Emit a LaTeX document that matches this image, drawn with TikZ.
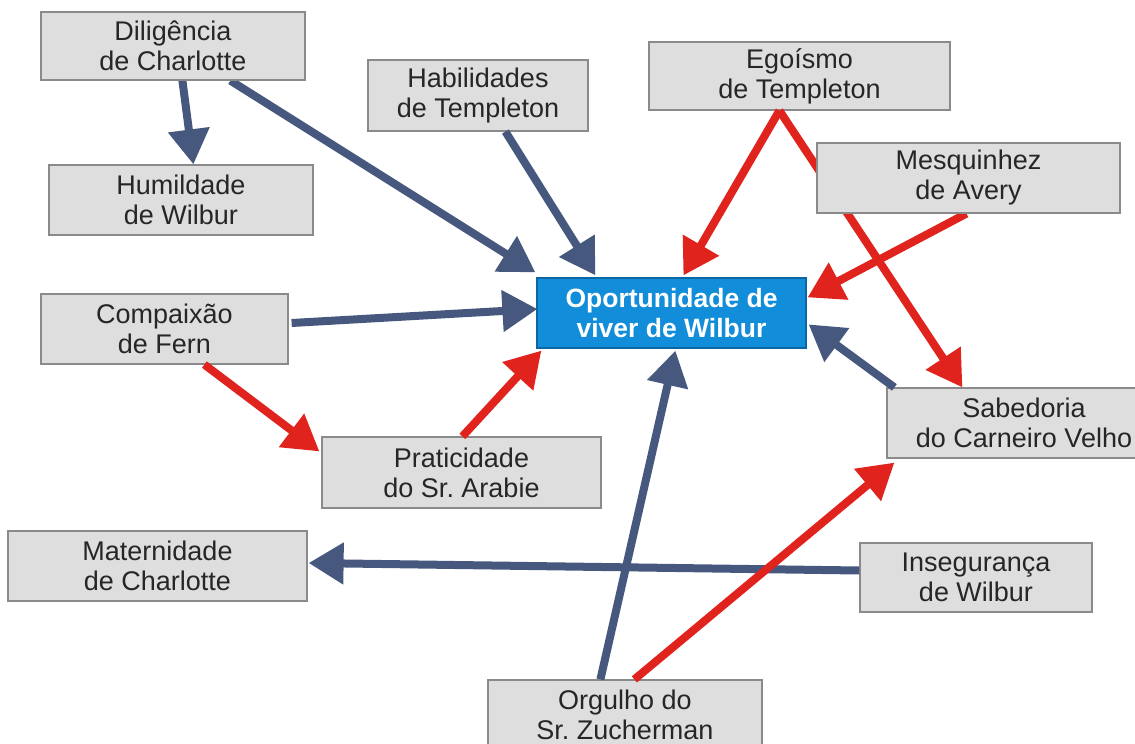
\documentclass[tikz,border=0pt]{standalone}
\usepackage{fontspec}
\setmainfont{Liberation Sans}
\usetikzlibrary{arrows.meta,calc}
\definecolor{arrblue}{HTML}{47587F}
\definecolor{arrred}{HTML}{E0231D}
\definecolor{boxfill}{HTML}{DEDEDE}
\definecolor{boxline}{HTML}{8A8A8A}
\definecolor{txtgrey}{HTML}{262626}
\definecolor{cfill}{HTML}{118DDA}
\definecolor{cline}{HTML}{0B66A6}
\frenchspacing
\begin{document}
\begin{tikzpicture}[x=1pt,y=-1pt,
  box/.style={draw=boxline, line width=1.2pt, fill=boxfill, inner sep=0pt, align=center,
    text=txtgrey, font=\fontsize{27}{30}\selectfont\frenchspacing},
  cbox/.style={draw=cline, line width=1.2pt, fill=cfill, inner sep=0pt, align=center,
    text=white, font=\fontsize{26.5}{30}\selectfont\bfseries},
  barrow/.style={draw=arrblue, line width=8pt, -{Triangle[length=35pt,width=40pt]}},
  rarrow/.style={draw=arrred, line width=8pt, -{Triangle[length=35pt,width=40pt]}}]
\useasboundingbox (0,0) rectangle (1135,744);
\fill[white] (0,0) rectangle (1135,744);

\path
  node[box, minimum width=264pt, minimum height=68pt] (dil) at (173,46) {Diligência\\de Charlotte}
  node[box, minimum width=220pt, minimum height=71pt] (hab) at (478,95.5) {Habilidades\\de Templeton}
  node[box, minimum width=301pt, minimum height=68pt] (ego) at (799.5,76) {Egoísmo\\de Templeton}
  node[box, minimum width=264pt, minimum height=70pt] (hum) at (181,200) {Humildade\\de Wilbur}
  node[box, minimum width=303pt, minimum height=70pt] (mes) at (968.5,178) {Mesquinhez\\de Avery}
  node[cbox, minimum width=269pt, minimum height=70pt] (op) at (671.5,313) {Oportunidade de\\viver de Wilbur}
  node[box, minimum width=247pt, minimum height=70pt] (com) at (164.5,329) {Compaixão\\de Fern}
  node[box, minimum width=279pt, minimum height=71pt] (pra) at (461.5,472.5) {Praticidade\\do Sr.\ Arabie}
  node[box, minimum width=274pt, minimum height=70pt] (sab) at (1024,423) {Sabedoria\\do Carneiro Velho}
  node[box, minimum width=299pt, minimum height=70pt] (mat) at (157.5,566) {Maternidade\\de Charlotte}
  node[box, minimum width=232pt, minimum height=69pt] (ins) at (976,577.5) {Insegurança\\de Wilbur}
  node[box, minimum width=274pt, minimum height=70pt] (org) at (625,715) {Orgulho do\\Sr.\ Zucherman};

% blue arrows
\draw[barrow] ($(dil.south west)+(142,0)$) -- ($(hum.north west)+(145,0)$);
\draw[barrow] ($(dil.south west)+(190,0)$) -- ($(op.north west)+(-1,-5)$);
\draw[barrow] ($(hab.south west)+(138,0)$) -- ($(op.north west)+(59,-2)$);
\draw[barrow] ($(sab.north west)+(8,0)$) -- ($(op.north east)+(2,47)$);
\draw[barrow] ($(com.east)+(3,-6)$) -- ($(op.west)+(1,-4)$);
\draw[barrow] ($(ins.west)+(0,-7)$) -- ($(mat.east)+(1,-3)$);
\draw[barrow] ($(org.north west)+(113,0)$) -- ($(op.south west)+(139,2)$);
% red arrows
\draw[rarrow] ($(ego.south west)+(131,0)$) -- ($(op.north west)+(147,-2)$);
\draw[rarrow] ($(ego.south west)+(131,0)$) -- ($(sab.north west)+(76,0)$);
\draw[rarrow] ($(mes.south west)+(150,0)$) -- ($(op.north east)+(1,20)$);
\draw[rarrow] ($(com.south west)+(164,0)$) -- ($(pra.north west)+(-2,15)$);
\draw[rarrow] ($(pra.north west)+(141,0)$) -- ($(op.south west)+(5,2)$);
\draw[rarrow] ($(org.north west)+(147,0)$) -- ($(sab.south west)+(8,4)$);

% boxes redrawn on top of the connectors that cross them
\path
  node[box, minimum width=264pt, minimum height=68pt] at (dil) {Diligência\\de Charlotte}
  node[box, minimum width=303pt, minimum height=70pt] at (mes) {Mesquinhez\\de Avery};
\end{tikzpicture}
\end{document}
